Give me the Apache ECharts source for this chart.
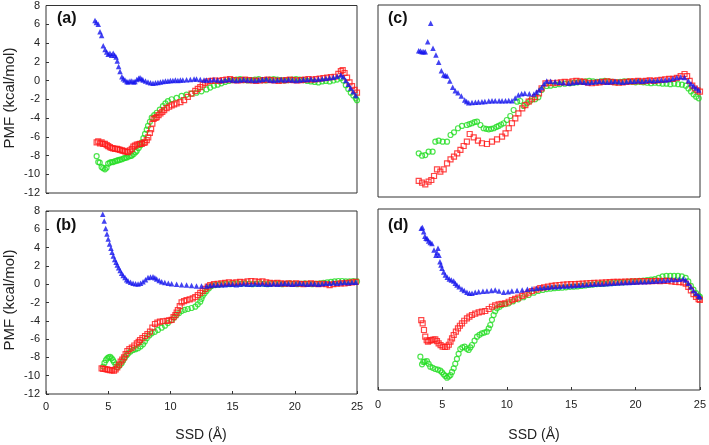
<!DOCTYPE html>
<html>
<head>
<meta charset="utf-8">
<script src="https://cdn.jsdelivr.net/npm/echarts@6/dist/echarts.min.js"></script>
<style>
  html, body { margin: 0; padding: 0; background: #fff; }
  #chart { width: 709px; height: 445px; }
</style>
</head>
<body>
<div id="chart"></div>
<script>
// panel (a)
const aBlue = [[3.94,6.4],[4.05,6.2],[4.2,6.0],[4.34,5.2],[4.47,4.8],[4.6,3.7],[4.75,3.3],[4.88,3.05],[5.0,2.8],[5.14,2.9],[5.27,2.7],[5.4,2.9],[5.52,2.7],[5.63,2.5],[5.73,2.07],[5.84,1.5],[5.95,0.95],[6.1,0.4],[6.22,0.2],[6.35,0.05],[6.5,-0.1],[6.6,-0.15],[6.75,-0.05],[6.9,-0.05],[7.05,-0.15],[7.15,-0.1],[7.3,0.1],[7.45,0.25],[7.56,0.3],[7.7,0.15],[7.8,0.05],[8.0,-0.05],[8.2,-0.15],[8.4,-0.25],[8.6,-0.3],[8.8,-0.25],[9.0,-0.2],[9.2,-0.15],[9.4,-0.1],[9.6,-0.05],[9.8,-0.05],[10.0,0],[10.2,0],[10.4,0.05],[10.6,0],[10.8,0.05],[11.0,0.05],[11.3,0.07],[11.6,0.1],[11.9,0.15],[12.1,0.15],[12.4,0.1],[12.7,0.05],[12.9,0.05],[13.2,0.05],[13.5,0.1],[13.8,0.05],[14.1,0],[14.4,0.05],[14.7,0.1],[15.0,0.05],[15.3,0],[15.6,0.05],[15.9,0.1],[16.2,0.05],[16.5,0.05],[16.8,0],[17.1,0.05],[17.4,0.1],[17.7,0.15],[18.0,0.05],[18.3,0],[18.6,0.05],[18.9,0.1],[19.2,0.05],[19.5,0.1],[19.8,0.05],[20.1,0],[20.4,0.05],[20.7,0.1],[21.0,0.1],[21.3,0.15],[21.6,0.1],[21.9,0.15],[22.2,0.2],[22.5,0.25],[22.8,0.3],[23.1,0.35],[23.4,0.45],[23.7,0.6],[23.9,0.4],[24.1,0],[24.3,-0.4],[24.5,-0.8],[24.7,-1.2],[24.9,-1.6]];
const aRed = [[4.07,-6.6],[4.2,-6.5],[4.34,-6.7],[4.47,-6.6],[4.6,-6.75],[4.74,-6.77],[4.88,-6.9],[5.0,-7.0],[5.14,-7.1],[5.27,-7.2],[5.4,-7.25],[5.55,-7.3],[5.7,-7.3],[5.82,-7.35],[5.95,-7.4],[6.1,-7.45],[6.22,-7.5],[6.35,-7.55],[6.48,-7.6],[6.6,-7.65],[6.75,-7.45],[6.9,-7.3],[7.02,-7.05],[7.15,-6.95],[7.3,-6.85],[7.45,-6.8],[7.56,-6.77],[7.7,-6.75],[7.85,-6.65],[7.96,-6.6],[8.1,-6.35],[8.22,-6.07],[8.35,-5.6],[8.45,-5.2],[8.55,-4.6],[8.65,-4.1],[8.8,-4.0],[8.9,-3.9],[9.05,-3.7],[9.2,-3.5],[9.35,-3.35],[9.5,-3.15],[9.7,-2.95],[9.9,-2.8],[10.1,-2.65],[10.3,-2.55],[10.5,-2.45],[10.8,-2.3],[11.1,-2.1],[11.4,-1.75],[11.7,-1.4],[12.0,-1.1],[12.2,-0.9],[12.4,-0.7],[12.6,-0.45],[12.8,-0.25],[13.0,-0.1],[13.3,-0.05],[13.6,0],[13.9,-0.05],[14.2,0.05],[14.5,0.1],[14.8,0.15],[15.1,0.05],[15.4,0],[15.7,0.05],[16.0,0.1],[16.3,0.05],[16.6,0],[16.9,-0.05],[17.2,0],[17.5,0.05],[17.8,0.1],[18.1,0.05],[18.4,0],[18.7,-0.05],[19.0,0],[19.3,0.05],[19.6,0.1],[19.9,0.05],[20.2,0],[20.5,0.05],[20.8,0.1],[21.1,0.15],[21.4,0.1],[21.7,0.15],[22.0,0.2],[22.3,0.25],[22.6,0.3],[22.9,0.35],[23.2,0.4],[23.5,0.7],[23.7,1.0],[23.85,1.1],[24.0,0.8],[24.2,0.3],[24.4,-0.2],[24.6,-0.6],[24.8,-1.0],[25.0,-1.3]];
const aGreen = [[4.07,-8.07],[4.2,-8.7],[4.32,-8.75],[4.47,-9.23],[4.6,-9.35],[4.74,-9.47],[4.87,-9.3],[5.0,-8.87],[5.14,-8.75],[5.27,-8.7],[5.4,-8.7],[5.55,-8.6],[5.7,-8.55],[5.82,-8.5],[5.95,-8.45],[6.1,-8.4],[6.25,-8.3],[6.38,-8.25],[6.5,-8.2],[6.65,-8.1],[6.8,-8.05],[6.9,-8.0],[7.05,-7.85],[7.2,-7.65],[7.3,-7.5],[7.45,-7.2],[7.6,-6.9],[7.7,-6.6],[7.83,-6.15],[7.96,-5.7],[8.1,-5.25],[8.2,-4.85],[8.35,-4.4],[8.5,-3.97],[8.7,-3.7],[8.9,-3.44],[9.15,-3.1],[9.4,-2.74],[9.6,-2.45],[9.8,-2.2],[10.1,-2.0],[10.5,-1.85],[10.9,-1.65],[11.3,-1.5],[11.7,-1.4],[12.1,-1.3],[12.5,-1.15],[12.9,-0.95],[13.2,-0.75],[13.5,-0.55],[13.8,-0.45],[14.1,-0.3],[14.4,-0.15],[14.7,-0.05],[15.0,0.05],[15.3,0.1],[15.6,0.15],[15.9,0.05],[16.2,0],[16.5,0.05],[16.8,0.1],[17.1,0.15],[17.4,0.05],[17.7,0],[18.0,0.1],[18.3,0.15],[18.6,0.1],[18.9,0.05],[19.2,0],[19.5,0.05],[19.8,0.1],[20.1,0.15],[20.4,0.1],[20.7,0.05],[21.0,-0.05],[21.3,-0.1],[21.6,-0.15],[21.9,-0.2],[22.2,-0.1],[22.5,-0.05],[22.8,-0.1],[23.1,0],[23.4,0.1],[23.7,0.25],[23.9,0],[24.1,-0.5],[24.3,-0.9],[24.5,-1.3],[24.7,-1.6],[24.9,-1.9],[25.0,-2.1]];

// panel (b)
const bBlue = [[4.56,7.64],[4.68,6.9],[4.8,6.1],[4.9,5.5],[5.0,4.94],[5.11,4.4],[5.22,3.92],[5.31,3.5],[5.41,3.08],[5.52,2.7],[5.63,2.39],[5.73,2.1],[5.84,1.8],[5.96,1.5],[6.08,1.19],[6.2,0.95],[6.35,0.72],[6.48,0.5],[6.6,0.35],[6.8,0.2],[7.0,0.1],[7.2,0.05],[7.4,0.02],[7.6,0.1],[7.8,0.27],[8.0,0.5],[8.2,0.72],[8.4,0.8],[8.6,0.82],[8.75,0.7],[8.9,0.57],[9.1,0.4],[9.3,0.27],[9.55,0.18],[9.83,0.1],[10.1,0.05],[10.5,-0.01],[10.9,-0.05],[11.3,-0.09],[11.7,-0.15],[12.1,-0.2],[12.5,-0.2],[12.9,-0.2],[13.2,-0.15],[13.5,-0.1],[13.8,-0.1],[14.1,-0.05],[14.4,-0.05],[14.7,0],[15.0,0],[15.3,-0.05],[15.6,0],[15.9,0.05],[16.2,0],[16.5,0],[16.8,0.05],[17.1,0],[17.4,0.05],[17.7,0],[18.0,0],[18.3,0.05],[18.6,0],[18.9,0.05],[19.2,0.1],[19.5,0.05],[19.8,0],[20.1,0.05],[20.4,0.1],[20.7,0.05],[21.0,0],[21.3,0.05],[21.6,0.05],[21.9,0],[22.2,0.05],[22.5,0.1],[22.8,0.1],[23.1,0.15],[23.4,0.1],[23.7,0.15],[24.0,0.2],[24.3,0.15],[24.6,0.2],[24.9,0.2]];
const bRed = [[4.47,-9.2],[4.6,-9.25],[4.74,-9.27],[4.88,-9.3],[5.0,-9.35],[5.14,-9.38],[5.3,-9.42],[5.47,-9.45],[5.6,-9.3],[5.73,-9.1],[5.87,-8.8],[6.0,-8.47],[6.13,-8.25],[6.27,-8.0],[6.4,-7.65],[6.54,-7.3],[6.7,-7.1],[6.9,-6.94],[7.1,-6.7],[7.3,-6.46],[7.45,-6.3],[7.56,-6.1],[7.75,-5.9],[7.96,-5.66],[8.15,-5.45],[8.36,-5.19],[8.55,-4.75],[8.76,-4.35],[8.95,-4.2],[9.16,-4.1],[9.4,-4.05],[9.7,-4.0],[9.9,-3.95],[10.1,-3.9],[10.25,-3.6],[10.4,-3.37],[10.5,-3.1],[10.6,-2.82],[10.75,-2.4],[10.9,-1.98],[11.1,-1.85],[11.3,-1.73],[11.55,-1.65],[11.8,-1.55],[12.0,-1.4],[12.2,-1.2],[12.4,-0.95],[12.6,-0.74],[12.8,-0.5],[13.0,-0.27],[13.2,-0.1],[13.5,0],[13.8,0.05],[14.1,0.1],[14.4,0.15],[14.7,0.2],[15.0,0.15],[15.3,0.2],[15.6,0.25],[15.9,0.2],[16.2,0.3],[16.5,0.35],[16.8,0.3],[17.1,0.25],[17.4,0.3],[17.7,0.2],[18.0,0.15],[18.3,0.1],[18.6,0.15],[18.9,0.1],[19.2,0.05],[19.5,0.1],[19.8,0.05],[20.1,0.1],[20.4,0.05],[20.7,0],[21.0,0.05],[21.3,0.1],[21.6,0.05],[21.9,0],[22.2,0.05],[22.5,0],[22.8,-0.1],[23.1,0],[23.4,0.05],[23.7,0.1],[24.0,0.1],[24.3,0.15],[24.6,0.2],[24.9,0.25]];
const bGreen = [[4.6,-9.0],[4.7,-8.6],[4.82,-8.3],[4.93,-8.1],[5.04,-8.0],[5.16,-7.95],[5.28,-8.1],[5.38,-8.3],[5.47,-8.5],[5.6,-8.8],[5.73,-9.08],[5.9,-8.9],[6.08,-8.65],[6.2,-8.35],[6.35,-8.0],[6.5,-7.75],[6.62,-7.55],[6.8,-7.35],[7.0,-7.19],[7.2,-7.1],[7.4,-7.0],[7.6,-6.8],[7.8,-6.57],[7.95,-6.25],[8.1,-5.9],[8.3,-5.6],[8.5,-5.37],[8.75,-5.2],[9.0,-5.0],[9.3,-4.75],[9.56,-4.53],[9.8,-4.25],[10.1,-3.91],[10.3,-3.65],[10.5,-3.37],[10.7,-3.15],[10.9,-2.93],[11.15,-2.8],[11.4,-2.71],[11.7,-2.6],[12.0,-2.46],[12.2,-2.2],[12.4,-1.91],[12.5,-1.6],[12.6,-1.26],[12.75,-1.0],[12.9,-0.74],[13.1,-0.45],[13.3,-0.2],[13.6,-0.1],[13.9,-0.05],[14.2,0],[14.5,0.05],[14.8,0],[15.1,0.05],[15.4,0.1],[15.7,0.05],[16.0,0.1],[16.3,0.05],[16.6,0],[16.9,0.05],[17.2,0.1],[17.5,0.05],[17.8,0],[18.1,0.05],[18.4,0.1],[18.7,0.05],[19.0,0],[19.3,0.05],[19.6,0.1],[19.9,0.05],[20.2,0],[20.5,0.05],[20.8,0.1],[21.1,0.05],[21.4,0],[21.7,0.05],[22.0,0.1],[22.3,0.15],[22.6,0.2],[22.9,0.25],[23.2,0.3],[23.5,0.35],[23.8,0.35],[24.1,0.3],[24.4,0.3],[24.7,0.35],[25.0,0.3]];

// panel (c)
const cBlue = [[3.16,3.24],[3.29,3.2],[3.42,3.14],[3.55,3.14],[3.67,3.14],[3.86,4.18],[4.09,6.09],[4.27,3.49],[4.5,2.79],[4.71,2.03],[4.92,1.16],[5.1,0.71],[5.23,0.65],[5.36,0.6],[5.57,0.08],[5.8,-0.58],[6.0,-0.93],[6.21,-1.13],[6.47,-1.48],[6.73,-1.9],[6.88,-2.05],[7.04,-2.17],[7.3,-2.15],[7.56,-2.14],[7.8,-2.1],[8.07,-2.07],[8.3,-2.05],[8.6,-2.0],[8.85,-1.97],[9.1,-1.97],[9.4,-1.97],[9.63,-1.97],[9.9,-1.97],[10.15,-1.95],[10.4,-1.97],[10.65,-1.7],[10.9,-1.38],[11.15,-1.25],[11.4,-1.2],[11.75,-1.25],[12.1,-1.27],[12.3,-1.05],[12.5,-0.85],[12.7,-0.6],[12.9,-0.2],[13.1,0.08],[13.4,0.05],[13.75,0],[14.1,-0.05],[14.4,-0.1],[14.8,-0.16],[15.1,-0.1],[15.4,-0.05],[15.7,0],[16.0,-0.05],[16.3,-0.1],[16.6,-0.05],[16.9,0],[17.2,0.05],[17.5,0],[17.8,-0.05],[18.1,0],[18.4,0.05],[18.7,0],[19.0,-0.05],[19.3,0],[19.6,0.05],[19.9,0.05],[20.2,0.1],[20.5,0.05],[20.8,0.1],[21.1,0.15],[21.4,0.1],[21.7,0.15],[22.0,0.2],[22.3,0.2],[22.6,0.25],[22.9,0.35],[23.2,0.45],[23.5,0.5],[23.8,0.45],[24.1,0.1],[24.3,-0.2],[24.5,-0.45],[24.7,-0.65],[24.9,-0.85]];
const cRed = [[3.16,-10.33],[3.42,-10.5],[3.67,-10.68],[3.93,-10.4],[4.14,-10.23],[4.35,-9.81],[4.58,-9.12],[4.84,-9.36],[5.1,-9.12],[5.36,-8.5],[5.63,-8.08],[5.9,-7.8],[6.15,-7.45],[6.4,-7.1],[6.65,-6.69],[6.9,-6.24],[7.12,-5.44],[7.43,-5.78],[7.76,-6.13],[8.07,-6.4],[8.46,-6.48],[8.85,-6.24],[9.24,-5.99],[9.63,-5.72],[9.9,-5.37],[10.15,-4.84],[10.4,-4.32],[10.66,-3.8],[10.9,-3.28],[11.2,-2.76],[11.44,-2.42],[11.7,-2.07],[11.96,-1.82],[12.2,-1.6],[12.5,-1.2],[12.7,-0.68],[13.0,-0.16],[13.3,-0.1],[13.6,-0.15],[13.9,-0.1],[14.2,-0.05],[14.5,0],[14.8,-0.05],[15.1,0.05],[15.4,0.1],[15.7,0.05],[16.0,0],[16.3,-0.1],[16.6,-0.15],[16.9,-0.1],[17.2,-0.05],[17.5,0],[17.8,0.05],[18.1,0],[18.4,-0.05],[18.7,-0.1],[19.0,-0.05],[19.3,0],[19.6,0.05],[19.9,0.05],[20.2,0.1],[20.5,0.05],[20.8,0.1],[21.1,0.15],[21.4,0.1],[21.7,0.15],[22.0,0.2],[22.3,0.25],[22.6,0.3],[22.9,0.3],[23.2,0.4],[23.5,0.6],[23.8,0.81],[24.0,0.6],[24.2,0.1],[24.4,-0.4],[24.6,-0.7],[24.8,-0.9],[25.0,-1.03]];
const cGreen = [[3.16,-7.45],[3.42,-7.7],[3.67,-7.63],[3.93,-7.28],[4.24,-7.28],[4.45,-6.24],[4.71,-6.13],[5.02,-6.24],[5.36,-6.24],[5.63,-5.54],[5.9,-5.26],[6.21,-4.84],[6.52,-4.6],[6.9,-4.5],[7.1,-4.4],[7.3,-4.32],[7.5,-4.2],[7.69,-4.15],[7.95,-4.5],[8.2,-4.84],[8.4,-4.9],[8.6,-4.95],[8.8,-4.9],[9.0,-4.84],[9.2,-4.7],[9.37,-4.6],[9.56,-4.45],[9.76,-4.32],[10.0,-3.98],[10.27,-3.56],[10.53,-2.94],[10.8,-2.07],[11.05,-2.0],[11.3,-2.52],[11.57,-2.24],[11.83,-1.97],[12.2,-1.82],[12.45,-1.6],[12.7,-0.85],[13.1,-0.44],[13.4,-0.4],[13.75,-0.33],[14.1,-0.25],[14.5,-0.2],[14.9,-0.16],[15.2,-0.1],[15.5,-0.05],[15.8,0],[16.1,0.05],[16.4,0.1],[16.7,0.05],[17.0,0],[17.3,0.05],[17.6,0.1],[17.9,0.05],[18.2,0],[18.5,-0.05],[18.8,0],[19.1,0.05],[19.4,0.05],[19.7,0],[20.0,-0.05],[20.3,0],[20.6,-0.05],[20.9,-0.1],[21.2,-0.15],[21.5,-0.1],[21.8,-0.15],[22.1,-0.2],[22.4,-0.2],[22.7,-0.25],[23.0,-0.2],[23.3,-0.25],[23.6,-0.3],[23.9,-0.4],[24.1,-0.7],[24.3,-1.0],[24.5,-1.3],[24.7,-1.55],[24.9,-1.72]];

// panel (d)
const dBlue = [[3.36,5.87],[3.45,5.95],[3.55,5.5],[3.64,5.0],[3.73,4.76],[3.83,4.7],[3.93,4.46],[4.06,4.3],[4.19,4.2],[4.35,3.47],[4.5,2.9],[4.58,3.2],[4.66,3.65],[4.74,2.9],[4.81,2.18],[4.89,1.8],[4.97,1.45],[5.1,1.05],[5.23,0.71],[5.38,0.45],[5.54,0.26],[5.7,0.15],[5.88,0.04],[6.0,-0.2],[6.13,-0.4],[6.3,-0.6],[6.52,-0.84],[6.7,-1.0],[6.91,-1.2],[7.1,-1.3],[7.3,-1.32],[7.55,-1.2],[7.82,-1.14],[8.15,-1.1],[8.46,-1.06],[8.8,-1.0],[9.1,-0.95],[9.4,-1.05],[9.76,-1.2],[10.1,-1.15],[10.4,-1.06],[10.8,-1.0],[11.2,-0.95],[11.6,-0.88],[11.96,-0.8],[12.3,-0.75],[12.6,-0.7],[12.9,-0.67],[13.2,-0.64],[13.5,-0.6],[13.8,-0.58],[14.1,-0.55],[14.4,-0.52],[14.7,-0.5],[15.0,-0.47],[15.3,-0.45],[15.6,-0.42],[15.9,-0.4],[16.2,-0.38],[16.5,-0.35],[16.8,-0.32],[17.1,-0.3],[17.4,-0.28],[17.7,-0.25],[18.0,-0.22],[18.3,-0.2],[18.6,-0.18],[18.9,-0.15],[19.2,-0.13],[19.5,-0.12],[19.8,-0.1],[20.1,-0.08],[20.4,-0.05],[20.7,-0.03],[21.0,0],[21.3,0.03],[21.6,0.05],[21.9,0.08],[22.2,0.1],[22.5,0.15],[22.8,0.2],[23.1,0.22],[23.4,0.25],[23.7,0.28],[23.9,0.15],[24.1,-0.2],[24.3,-0.6],[24.5,-1.0],[24.7,-1.3],[24.9,-1.6],[25.0,-1.7]];
const dRed = [[3.36,-4.27],[3.47,-4.63],[3.57,-5.37],[3.67,-6.11],[3.78,-6.5],[3.88,-6.66],[4.0,-6.55],[4.14,-6.48],[4.3,-6.42],[4.45,-6.4],[4.58,-6.6],[4.71,-6.84],[4.86,-7.05],[5.02,-7.21],[5.2,-7.25],[5.36,-7.21],[5.5,-7.0],[5.63,-6.66],[5.75,-6.3],[5.88,-5.92],[6.05,-5.55],[6.21,-5.18],[6.36,-4.9],[6.52,-4.63],[6.7,-4.35],[6.91,-4.08],[7.1,-3.9],[7.3,-3.71],[7.55,-3.55],[7.82,-3.42],[8.07,-3.35],[8.33,-3.27],[8.6,-3.05],[8.85,-2.8],[9.1,-2.65],[9.37,-2.53],[9.6,-2.48],[9.88,-2.42],[10.15,-2.25],[10.4,-2.06],[10.65,-1.92],[10.9,-1.8],[11.2,-1.6],[11.44,-1.43],[11.7,-1.25],[11.96,-1.06],[12.3,-0.9],[12.6,-0.75],[12.9,-0.65],[13.2,-0.58],[13.5,-0.5],[13.8,-0.45],[14.1,-0.4],[14.4,-0.35],[14.7,-0.32],[15.0,-0.3],[15.3,-0.3],[15.6,-0.27],[15.9,-0.25],[16.2,-0.22],[16.5,-0.2],[16.8,-0.17],[17.1,-0.15],[17.4,-0.13],[17.7,-0.1],[18.0,-0.08],[18.3,-0.06],[18.6,-0.05],[18.9,-0.05],[19.2,-0.03],[19.5,-0.02],[19.8,0],[20.1,0],[20.4,0.02],[20.7,0.03],[21.0,0.02],[21.3,0.03],[21.6,0.05],[21.9,0.03],[22.2,0.05],[22.5,0.05],[22.8,0.0],[23.1,-0.05],[23.4,-0.08],[23.7,-0.1],[23.9,-0.25],[24.1,-0.6],[24.3,-1.0],[24.5,-1.4],[24.7,-1.7],[24.9,-1.95],[25.0,-2.05]];
const dGreen = [[3.29,-8.32],[3.42,-9.16],[3.52,-8.9],[3.63,-8.87],[3.8,-8.8],[3.93,-9.1],[4.06,-9.42],[4.25,-9.55],[4.45,-9.68],[4.65,-9.75],[4.84,-9.86],[4.97,-10.05],[5.1,-10.27],[5.23,-10.45],[5.36,-10.64],[5.5,-10.5],[5.63,-10.34],[5.75,-10.0],[5.88,-9.6],[6.0,-9.1],[6.13,-8.57],[6.26,-8.0],[6.39,-7.47],[6.55,-7.3],[6.73,-7.21],[6.9,-7.45],[7.04,-7.58],[7.17,-7.3],[7.3,-7.03],[7.5,-6.55],[7.69,-6.11],[7.88,-5.9],[8.07,-5.74],[8.26,-5.65],[8.46,-5.56],[8.6,-5.2],[8.72,-4.82],[8.85,-4.25],[8.98,-3.71],[9.1,-3.3],[9.24,-2.97],[9.45,-2.8],[9.63,-2.61],[9.9,-2.5],[10.15,-2.42],[10.5,-2.2],[10.9,-1.98],[11.3,-1.75],[11.7,-1.5],[12.1,-1.25],[12.45,-1.06],[12.8,-0.95],[13.1,-0.85],[13.4,-0.8],[13.7,-0.75],[14.0,-0.72],[14.3,-0.7],[14.6,-0.65],[14.9,-0.6],[15.2,-0.58],[15.5,-0.55],[15.8,-0.5],[16.1,-0.45],[16.4,-0.4],[16.7,-0.35],[17.0,-0.3],[17.3,-0.28],[17.6,-0.25],[17.9,-0.2],[18.2,-0.18],[18.5,-0.15],[18.8,-0.12],[19.1,-0.1],[19.4,-0.05],[19.7,0],[20.0,0],[20.3,0.05],[20.6,0.1],[20.9,0.15],[21.2,0.2],[21.5,0.25],[21.8,0.4],[22.1,0.55],[22.4,0.6],[22.7,0.6],[23.0,0.6],[23.3,0.62],[23.6,0.55],[23.9,0.4],[24.1,0],[24.3,-0.5],[24.5,-0.9],[24.7,-1.3],[24.9,-1.6],[25.0,-1.7]];

const panels = [
  { label: "(a)", green: aGreen, red: aRed, blue: aBlue },
  { label: "(b)", green: bGreen, red: bRed, blue: bBlue },
  { label: "(c)", green: cGreen, red: cRed, blue: cBlue },
  { label: "(d)", green: dGreen, red: dRed, blue: dBlue },
];

const grids = [
  { left: 46, top: 3, width: 311, height: 190 },
  { left: 46, top: 211, width: 311, height: 183 },
  { left: 378, top: 5, width: 322, height: 192 },
  { left: 378, top: 209, width: 322, height: 181 },
];

const labelFont = { fontFamily: "Liberation Sans", fontSize: 11, color: "#222" };

let chart = echarts.init(document.getElementById("chart"));

let xAxes = grids.map((g, i) => ({
  type: "value",
  gridIndex: i,
  min: 0,
  max: 25,
  interval: 5,
  axisLine: { show: false, onZero: false },
  axisTick: { show: i === 1 || i === 3, inside: true, length: 3, lineStyle: { color: "#333" } },
  axisLabel: { show: i === 1 || i === 3, margin: i === 1 ? 7 : 9, ...labelFont },
  splitLine: { show: false },
}));

let yAxes = grids.map((g, i) => ({
  type: "value",
  gridIndex: i,
  min: -12,
  max: 8,
  interval: 2,
  axisLine: { show: false, onZero: false },
  axisTick: { show: i < 2, inside: true, length: 3, lineStyle: { color: "#333" } },
  axisLabel: { show: i < 2, margin: 6, ...labelFont },
  splitLine: { show: false },
}));

let series = [];
panels.forEach((p, i) => {
  series.push({
    type: "scatter", xAxisIndex: i, yAxisIndex: i, data: p.green,
    symbol: "circle", symbolSize: 5,
    itemStyle: { color: "rgba(0,0,0,0)", borderColor: "#22dd22", borderWidth: 1.2 },
  });
  series.push({
    type: "scatter", xAxisIndex: i, yAxisIndex: i, data: p.red,
    symbol: "rect", symbolSize: 5,
    itemStyle: { color: "rgba(0,0,0,0)", borderColor: "#ff1a1a", borderWidth: 1.2 },
  });
  series.push({
    type: "scatter", xAxisIndex: i, yAxisIndex: i, data: p.blue,
    symbol: "triangle", symbolSize: 5.5,
    itemStyle: { color: "#1414ee" },
  });
});

let graphic = [
  { type: "text", left: 57, top: 11, style: { text: "(a)", font: "bold 16px 'Liberation Sans'", fill: "#111" } },
  { type: "text", left: 56, top: 218, style: { text: "(b)", font: "bold 16px 'Liberation Sans'", fill: "#111" } },
  { type: "text", left: 388, top: 11, style: { text: "(c)", font: "bold 16px 'Liberation Sans'", fill: "#111" } },
  { type: "text", left: 388, top: 218, style: { text: "(d)", font: "bold 16px 'Liberation Sans'", fill: "#111" } },
  { type: "text", x: 10, y: 98, rotation: Math.PI / 2, style: { text: "PMF (kcal/mol)", font: "15px 'Liberation Sans'", fill: "#222", align: "center", verticalAlign: "middle" } },
  { type: "text", x: 10, y: 300, rotation: Math.PI / 2, style: { text: "PMF (kcal/mol)", font: "15px 'Liberation Sans'", fill: "#222", align: "center", verticalAlign: "middle" } },
  { type: "text", x: 201, y: 435, style: { text: "SSD (Å)", font: "14px 'Liberation Sans'", fill: "#222", align: "center", verticalAlign: "middle" } },
  { type: "text", x: 534, y: 435, style: { text: "SSD (Å)", font: "14px 'Liberation Sans'", fill: "#222", align: "center", verticalAlign: "middle" } },
];

let option = {
  animation: false,
  backgroundColor: "#fff",
  grid: grids.map((g) => ({ ...g, show: true, borderColor: "#333", borderWidth: 1, backgroundColor: "rgba(0,0,0,0)" })),
  xAxis: xAxes,
  yAxis: yAxes,
  series: series,
  graphic: graphic,
};

option && chart.setOption(option);
</script>
</body>
</html>
